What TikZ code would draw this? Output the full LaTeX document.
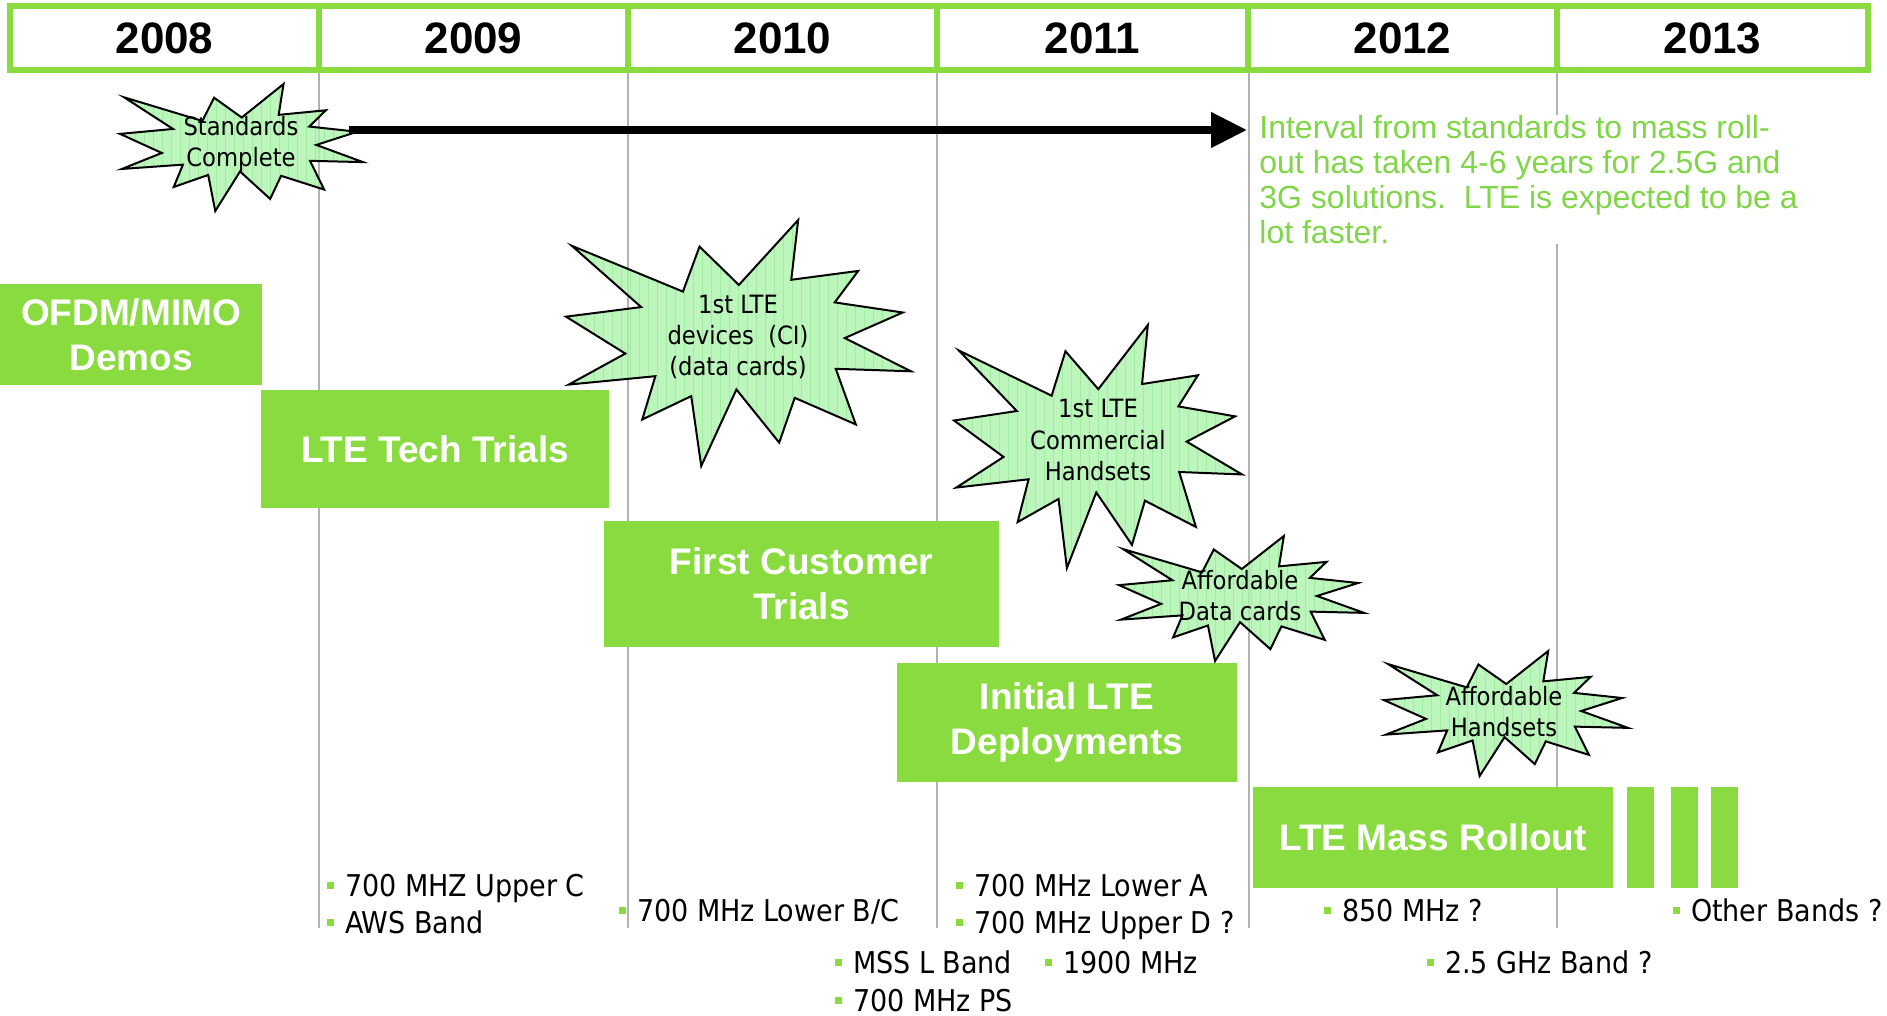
\documentclass[tikz,border=0pt]{standalone}
\usepackage{fontspec}
\setmainfont{Liberation Sans}
\newfontfamily\condfont{DejaVu Sans Condensed}
\usetikzlibrary{arrows.meta}
\definecolor{lgreen}{RGB}{137,219,64}
\definecolor{txtgreen}{RGB}{128,214,72}
\definecolor{starfill}{RGB}{172,244,172}
\definecolor{stargrid}{RGB}{120,225,120}
\definecolor{vline}{RGB}{178,178,178}
\newcommand\burstpath{(0.017,0.105) -- (0.339,0.291) -- (0.387,0.108) -- (0.501,0.264) -- (0.673,0) -- (0.653,0.243) -- (0.847,0.207) -- (0.779,0.335) -- (0.976,0.376) -- (0.808,0.480) -- (1,0.615) -- (0.782,0.605) -- (0.840,0.831) -- (0.663,0.723) -- (0.618,0.905) -- (0.494,0.689) -- (0.392,1) -- (0.363,0.716) -- (0.221,0.811) -- (0.259,0.635) -- (0.008,0.669) -- (0.172,0.543) -- (0,0.393) -- (0.218,0.354) -- cycle}
\newcommand\drawburst[4]{%
  \begin{scope}
    \fill[starfill, fill opacity=0.8, shift={(#1,#2)}, xscale=#3, yscale=#4] \burstpath;
    \clip[shift={(#1,#2)}, xscale=#3, yscale=#4] \burstpath;
    \draw[stargrid, line width=0.3pt, opacity=0.4, step=9] (#1,#2) grid ++(#3,#4);
  \end{scope}
  \draw[black, line width=1pt, line join=miter, shift={(#1,#2)}, xscale=#3, yscale=#4] \burstpath;
}
\newcommand\bulsq{\textcolor{lgreen}{\rule[3.4pt]{3.3pt}{3.8pt}}\hspace{5.5pt}}
\tikzset{
  year/.style={font=\bfseries\fontsize{22}{25}\selectfont, inner sep=0},
  gbox/.style={fill=lgreen, inner sep=0, align=center, text=white,
     font=\bfseries\fontsize{18.5}{22.3}\selectfont},
  bar/.style={fill=lgreen, inner sep=0, minimum width=13.5pt, minimum height=50.5pt},
  startxt/.style={align=center, inner sep=0, font=\condfont\fontsize{12.6}{15.6}\selectfont},
  bt/.style={anchor=base west, inner sep=0, font=\condfont\fontsize{15}{18.6}\selectfont},
  gline/.style={vline, line width=1.2pt}
}
\begin{document}
\begin{tikzpicture}[x=0.5pt,y=-0.5pt]
\useasboundingbox (0,0) rectangle (1887,1016);
\fill[white] (0,0) rectangle (1887,1016);

% vertical year lines
\draw[gline] (319,70) -- (319,928);
\draw[gline] (628,70) -- (628,928);
\draw[gline] (937,70) -- (937,928);
\draw[gline] (1249,70) -- (1249,928);
\draw[gline] (1557,70) -- (1557,928);

% header
\draw[lgreen, line width=2.6pt] (10,6) rectangle (1868,70);
\foreach \xx in {319,628,937,1248,1557} \draw[lgreen, line width=2.6pt] (\xx,6) -- (\xx,70);
\node[year] (y08) at (164.5,38) {2008};
\node[year] (y09) at (473.5,38) {2009};
\node[year] (y10) at (782.5,38) {2010};
\node[year] (y11) at (1092.5,38) {2011};
\node[year] (y12) at (1402.5,38) {2012};
\node[year] (y13) at (1712.5,38) {2013};

% phase boxes
\node[gbox, minimum width=131pt, minimum height=50.5pt] (ofdm) at (131,334.5) {OFDM/MIMO\\Demos};
\node[gbox, minimum width=174pt, minimum height=59pt] (tech) at (435,449) {LTE Tech Trials};
\node[gbox, minimum width=197.5pt, minimum height=63pt] (fct) at (801.5,584) {First Customer\\Trials};
\node[gbox, minimum width=170pt, minimum height=59.5pt] (init) at (1067,722.5) {Initial LTE\\Deployments};
\node[gbox, minimum width=180pt, minimum height=50.5pt] (mass) at (1433,837.5) {LTE Mass Rollout};
\node[bar] (bar1) at (1640.5,837.5) {};
\node[bar] (bar2) at (1684.5,837.5) {};
\node[bar] (bar3) at (1724.5,837.5) {};

% starbursts
\drawburst{120}{84}{243}{127}
\drawburst{566}{220}{345}{246}
\drawburst{954}{325}{288}{243}
\drawburst{1119}{536}{245}{125}
\drawburst{1384}{651}{244}{125}

\node[startxt] (s1) at (241,144) {Standards\\Complete};
\node[startxt] (s2) at (738,337) {1st LTE\\devices\ \ (CI)\\(data cards)};
\node[startxt] (s3) at (1098,440) {1st LTE\\Commercial\\Handsets};
\node[startxt] (s4) at (1240,596) {Affordable\\Data cards};
\node[startxt] (s5) at (1504,712) {Affordable\\Handsets};

% arrow
\coordinate (arrS) at (349,130);
\coordinate (arrE) at (1247,130);
\draw[line width=3.8pt, -{Triangle[length=18pt,width=17pt]}] (arrS) -- (arrE);

% note
\node[anchor=north west, inner sep=0, fill=white, align=left, text=txtgreen,
      font=\fontsize{16}{17.5}\selectfont] (note) at (1259,115)
  {Interval from standards to mass roll-\\out has taken 4-6 years for 2.5G and\\3G solutions.\ \ LTE is expected to be a\\lot faster.};

% bands
\node[bt] (b1) at (327,896) {\bulsq 700 MHZ Upper C};
\node[bt] (b2) at (327,933) {\bulsq AWS Band};
\node[bt] (b3) at (619,921) {\bulsq 700 MHz Lower B/C};
\node[bt] (b4) at (956,896) {\bulsq 700 MHz Lower A};
\node[bt] (b5) at (956,933) {\bulsq 700 MHz Upper D ?};
\node[bt] (b6) at (835,973) {\bulsq MSS L Band};
\node[bt] (b7) at (1045,973) {\bulsq 1900 MHz};
\node[bt] (b8) at (835,1011) {\bulsq 700 MHz PS};
\node[bt] (b9) at (1324,921) {\bulsq 850 MHz ?};
\node[bt] (b10) at (1427,973) {\bulsq 2.5 GHz Band ?};
\node[bt] (b11) at (1673,921) {\bulsq Other Bands ?};
\end{tikzpicture}
\end{document}
